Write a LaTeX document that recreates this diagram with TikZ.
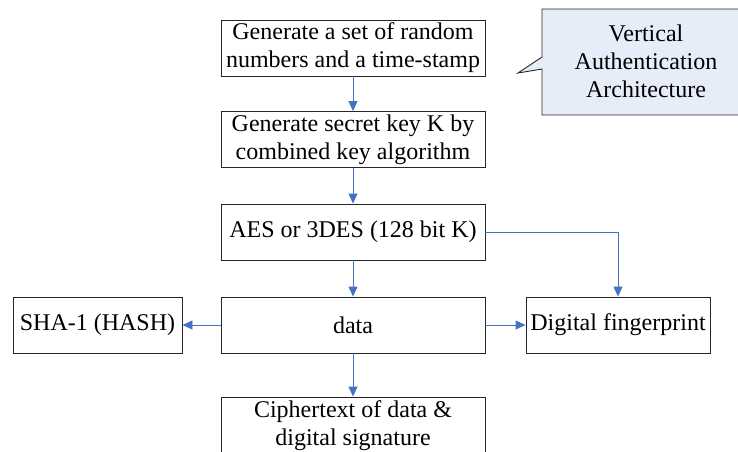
\documentclass[tikz,border=0pt]{standalone}
\usepackage{fontspec}
\setmainfont{Liberation Serif}
\usetikzlibrary{arrows.meta}
\definecolor{arrowblue}{HTML}{4472C4}
\definecolor{calloutfill}{HTML}{E6EDF8}
\begin{document}
\begin{tikzpicture}[x=1pt, y=-1pt, font=\fontsize{24}{28}\selectfont,
  main/.style = {draw=black!85, line width=0.9pt, minimum height=56pt, inner sep=2pt, align=center},
  wide/.style = {main, minimum width=264pt},
  arr/.style = {draw=arrowblue, line width=0.9pt, -{Triangle[width=9pt,length=10pt]}}]
  \useasboundingbox (0,0) rectangle (738,451);
  % callout
  \draw[fill=calloutfill, draw=black!85, line width=0.9pt] (760,9) -- (542,9) -- (542,57) -- (518,73) -- (542,69) -- (542,115) -- (760,115);
  \node[align=center] (note) at (646,61) {Vertical\\Authentication\\Architecture};
  % boxes
  \node[wide] (gen) at (353,48) {Generate a set of random\\numbers and a time-stamp};
  \node[wide] (key) at (353,139.5) {Generate secret key K by\\combined key algorithm};
  \node[wide] (aes) at (353,232) {AES or 3DES (128 bit K)};
  \node[wide] (data) at (353,325) {data};
  \node[main, minimum width=169pt] (sha) at (97.5,325) {SHA-1 (HASH)};
  \node[main, minimum width=184pt] (fp) at (618,325) {Digital fingerprint};
  \node[wide, minimum height=58pt] (ciph) at (353,426) {Ciphertext of data \&\\digital signature};
  % arrows
  \draw[arr] (gen) to (key);
  \draw[arr] (key) to (aes);
  \draw[arr] (aes) to (data);
  \draw[arr] (aes.east) -| (fp.north);
  \draw[arr] (data) to (sha);
  \draw[arr] (data) to (fp);
  \draw[arr] (data) to (ciph);
\end{tikzpicture}
\end{document}
